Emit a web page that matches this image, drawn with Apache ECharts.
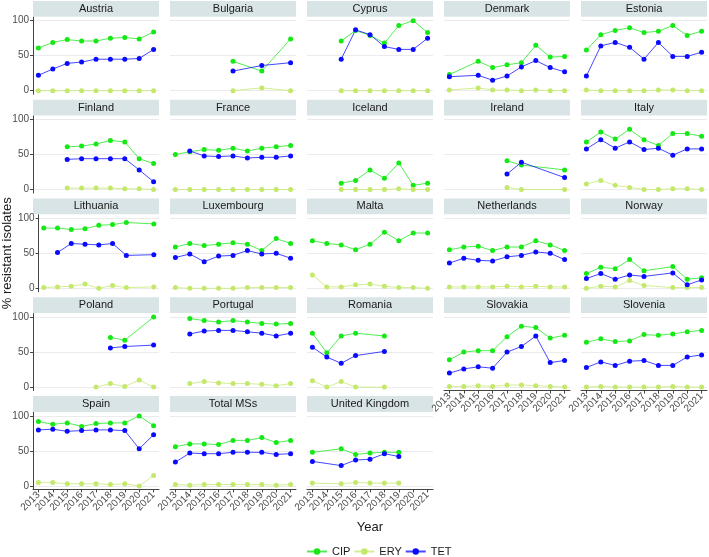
<!DOCTYPE html>
<html>
<head>
<meta charset="utf-8">
<script src="https://cdn.jsdelivr.net/npm/echarts@6/dist/echarts.min.js"></script>
<style>
html,body{margin:0;padding:0;background:#fff;}
#chart{width:709px;height:557px;}
</style>
</head>
<body>
<div id="chart"></div>
<script>
const years = [2013, 2014, 2015, 2016, 2017, 2018, 2019, 2020, 2021];
const drugs = ['CIP', 'ERY', 'TET'];
const countries = ['Austria','Bulgaria','Cyprus','Denmark','Estonia',
  'Finland','France','Iceland','Ireland','Italy',
  'Lithuania','Luxembourg','Malta','Netherlands','Norway',
  'Poland','Portugal','Romania','Slovakia','Slovenia',
  'Spain','Total MSs','United Kingdom'];
const _ = null;
const cipValues = [
  [61,69,73,71,71,75,76,74,84],
  [_,_,_,_,42,_,28,_,74],
  [_,_,71,86,79,68,93,100,83],
  [23,_,42,33,37,40,65,48,49],
  [58,80,86,90,83,85,93,79,85],
  [_,_,61,62,65,70,68,44,37],
  [50,54,57,56,59,55,59,61,63],
  [_,_,9,13,28,16,38,6,9],
  [_,_,_,_,41,35,_,_,28],
  [68,82,72,86,71,63,80,80,76],
  [86,86,84,85,90,91,94,_,92],
  [59,64,61,63,65,63,54,71,64],
  [68,64,62,55,63,80,68,79,79],
  [55,59,60,54,59,59,68,62,54],
  [21,30,28,41,25,_,31,13,15],
  [_,_,_,_,_,71,67,_,100],
  [_,98,95,93,95,93,91,90,91],
  [77,49,73,77,_,73,_,_,_],
  [39,50,52,52,72,87,85,70,74],
  [64,69,65,66,75,74,76,79,81],
  [92,88,90,85,89,90,90,100,86],
  [56,60,60,59,65,65,69,62,65],
  [48,_,53,45,47,48,48,_,_]
];
const eryValues = [
  [0,0,0,0,0,0,0,0,0],
  [_,_,_,_,0,_,4,_,0],
  [_,_,0,0,0,0,0,0,0],
  [1,_,4,1,1,0,1,0,0],
  [1,0,0,0,0,1,1,0,0],
  [_,_,2,2,2,2,1,1,0],
  [0,0,0,0,0,0,0,0,0],
  [_,_,0,0,0,0,1,0,0],
  [_,_,_,_,3,0,_,_,0],
  [8,13,6,3,0,0,1,1,0],
  [1,2,3,6,0,4,1,_,2],
  [1,0,0,0,0,1,1,1,1],
  [19,2,2,5,6,3,1,1,0],
  [2,2,2,2,3,2,3,2,2],
  [0,3,2,11,4,_,1,1,1],
  [_,_,_,_,0,5,1,10,0],
  [_,5,8,6,5,5,4,2,5],
  [9,0,8,0,_,0,_,_,_],
  [1,1,2,1,3,3,2,1,0],
  [0,1,0,0,0,0,1,0,0],
  [5,5,3,3,3,2,3,0,15],
  [2,1,2,2,2,2,2,1,2],
  [4,_,3,5,4,4,4,_,_]
];
const tetValues = [
  [22,31,39,41,45,45,45,46,59],
  [_,_,_,_,28,_,36,_,40],
  [_,_,45,87,80,63,59,59,75],
  [20,_,22,15,21,34,43,33,27],
  [21,64,69,62,45,69,49,49,55],
  [_,_,43,44,44,44,44,28,11],
  [_,55,48,47,48,45,46,46,48],
  [_,_,_,_,_,_,_,_,_],
  [_,_,_,_,22,39,_,_,17],
  [58,71,59,68,57,59,49,58,58],
  [_,51,64,63,62,64,47,_,48],
  [44,49,38,46,47,54,49,50,43],
  [_,_,_,_,_,_,_,_,_],
  [36,43,40,39,45,47,52,50,41],
  [14,21,13,19,17,_,22,5,12],
  [_,_,_,_,_,56,58,_,60],
  [_,76,80,81,81,79,77,73,77],
  [57,43,34,45,_,51,_,_,_],
  [20,26,29,27,50,58,73,35,38],
  [28,36,31,37,38,31,31,43,46],
  [80,81,78,79,80,80,79,53,73],
  [34,47,46,46,48,48,48,45,46],
  [35,_,29,37,38,46,42,_,_]
];
const yTicks = [0, 50, 100];

const drugColors = {CIP: '#16e816', ERY: '#c4e86c', TET: '#0a0aff'};
const drugData = {CIP: cipValues, ERY: eryValues, TET: tetValues};
const FONT = '"Liberation Sans", Arial, sans-serif';

const nCols = 5;
const panelW = 126, colPitch = 137, left0 = 33;
const rowPitch = 98.8, panelTop0 = 17.2, panelH = 77;

const grids = [], xAxes = [], yAxes = [], series = [], graphics = [];
countries.forEach((name, i) => {
  const r = Math.floor(i / nCols), c = i % nCols;
  const left = left0 + colPitch * c;
  const pTop = panelTop0 + rowPitch * r;
  const isBottom = (r === 4) || (r === 3 && c >= 3);
  const isLeft = c === 0;
  grids.push({left: left, top: pTop, width: panelW, height: panelH, containLabel: false});
  graphics.push({type: 'rect', left: left, top: pTop - 16.3, shape: {width: panelW, height: 15.8}, style: {fill: '#d9e4e7'}, silent: true});
  graphics.push({type: 'text', x: left + panelW / 2, y: pTop - 8.4, style: {text: name, fill: '#1a1a1a', font: '11px ' + FONT, textAlign: 'center', textVerticalAlign: 'middle'}, silent: true});
  xAxes.push({
    gridIndex: i, type: 'value', min: 2012.625, max: 2021.375,
    axisLine: {show: isBottom, onZero: false, lineStyle: {color: '#444', width: 1}},
    axisTick: {show: isBottom, customValues: years, length: 3, lineStyle: {color: '#444'}},
    axisLabel: {show: isBottom, customValues: years, rotate: 45, fontSize: 10, color: '#4d4d4d', fontFamily: FONT, margin: 4, formatter: v => String(v)},
    splitLine: {show: false},
    name: (name === 'United Kingdom') ? 'Year' : '',
    nameLocation: 'middle', nameGap: 32,
    nameTextStyle: {fontSize: 13, color: '#1a1a1a', fontFamily: FONT}
  });
  yAxes.push({
    gridIndex: i, type: 'value', min: -5, max: 105,
    axisLine: {show: isLeft, onZero: false, lineStyle: {color: '#444', width: 1}},
    axisTick: {show: isLeft, customValues: yTicks, length: 3, lineStyle: {color: '#444'}},
    axisLabel: {show: isLeft, customValues: yTicks, fontSize: 10, color: '#4d4d4d', fontFamily: FONT, margin: 4},
    splitLine: {show: true, lineStyle: {color: '#ebebeb', width: 1}},
    name: (name === 'Lithuania') ? '% resistant isolates' : '',
    nameLocation: 'middle', nameGap: 22, nameRotate: 90,
    nameTextStyle: {fontSize: 13, color: '#1a1a1a', fontFamily: FONT}
  });
  drugs.forEach(d => {
    const vals = drugData[d][i];
    const pts = [];
    years.forEach((y, k) => { if (vals[k] !== null) pts.push([y, vals[k]]); });
    if (!pts.length) return;
    series.push({
      name: d, type: 'line', xAxisIndex: i, yAxisIndex: i,
      data: pts, symbol: 'circle', symbolSize: 5,
      color: drugColors[d],
      itemStyle: {color: drugColors[d]},
      lineStyle: {width: 1, color: drugColors[d], opacity: 0.75},
      emphasis: {disabled: true}, animation: false
    });
  });
});

const chart = echarts.init(document.getElementById('chart'), null, {renderer: 'canvas'});
chart.setOption({
  animation: false,
  backgroundColor: '#ffffff',
  textStyle: {fontFamily: FONT},
  grid: grids, xAxis: xAxes, yAxis: yAxes, series: series,
  graphic: graphics,
  legend: {
    data: drugs, left: 306, top: 546, padding: 0,
    itemWidth: 20, itemHeight: 8, itemGap: 3,
    textStyle: {fontSize: 11, color: '#1a1a1a', fontFamily: FONT},
    selectedMode: false
  }
});
</script>
</body>
</html>
